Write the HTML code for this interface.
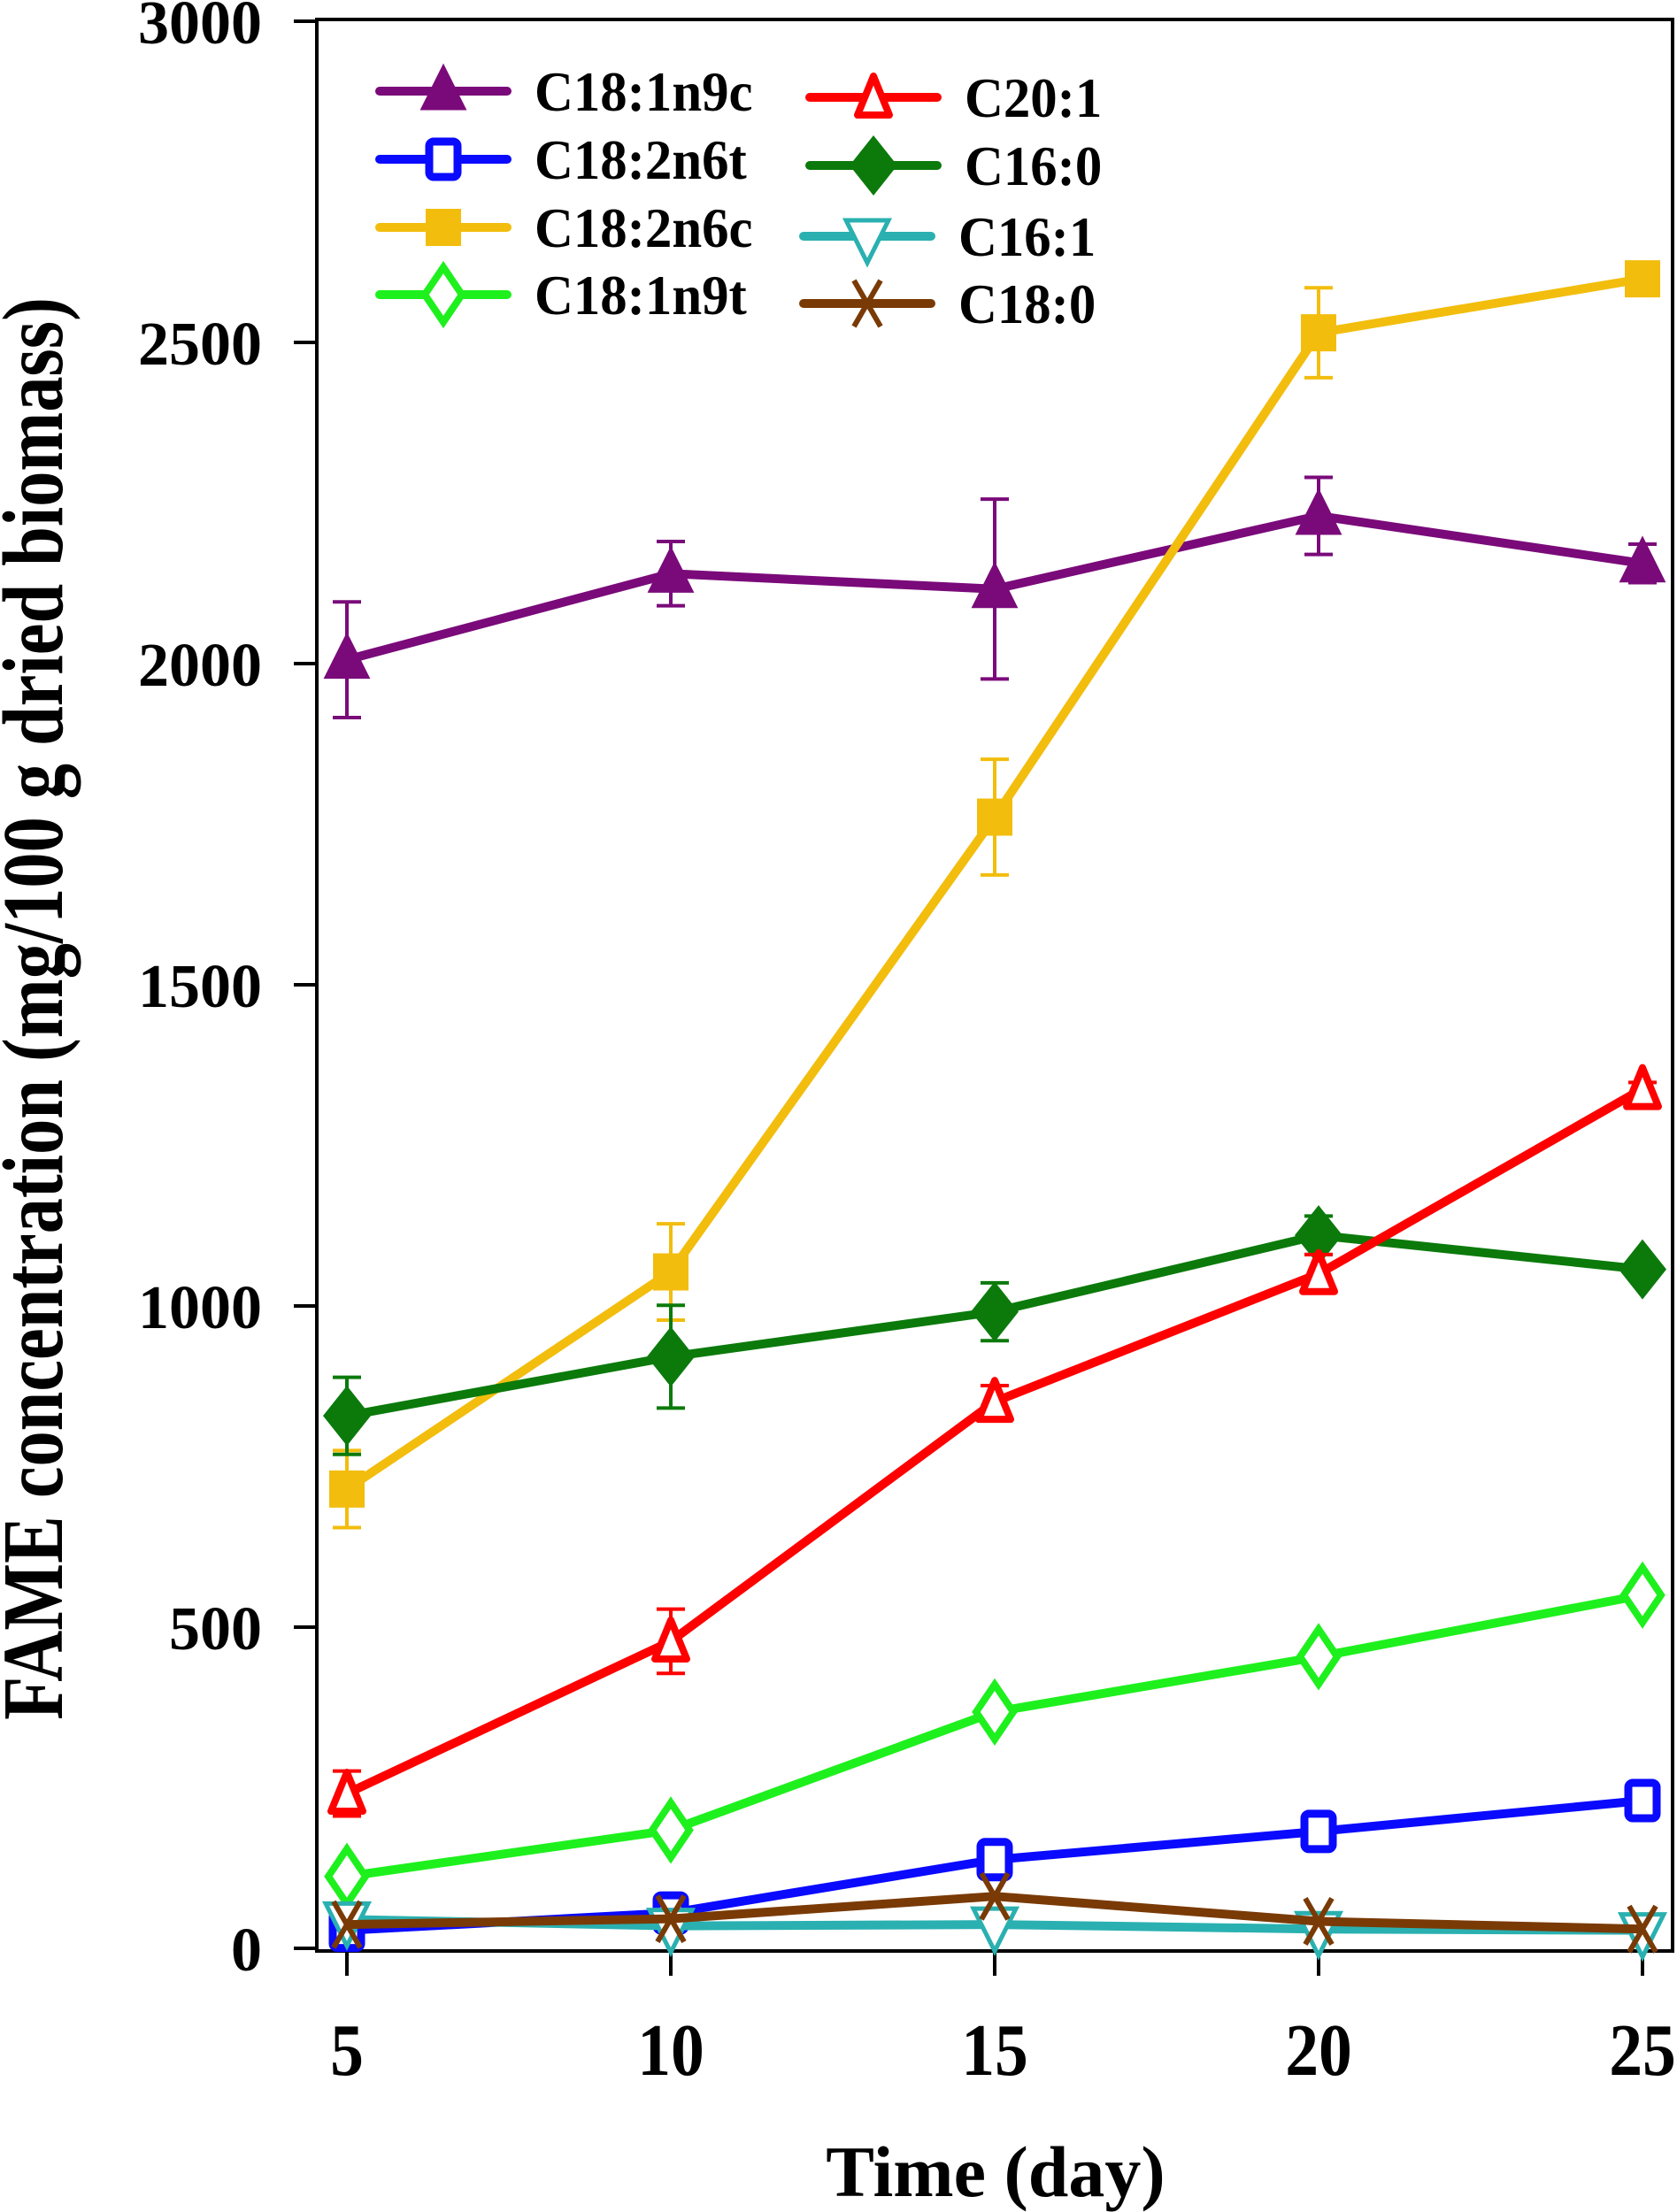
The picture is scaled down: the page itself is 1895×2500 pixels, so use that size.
<!DOCTYPE html>
<html><head><meta charset="utf-8"><style>
html,body{margin:0;padding:0;background:#fff}
svg{display:block}
text{font-family:"Liberation Serif",serif;font-weight:bold;fill:#000}
</style></head><body>
<svg id="chart" width="1895" height="2500" viewBox="0 0 1895 2500" xmlns="http://www.w3.org/2000/svg">
<g id="grid"></g>
<g id="series"></g>
<g id="legend"></g>
</svg>
<script>
const days = [5, 10, 15, 20, 25];
const yTicks = [0, 500, 1000, 1500, 2000, 2500, 3000];
const c181n9c = [2006, 2140, 2116, 2230, 2156];
const c181n9cErr = [90, 50, 140, 60, 30];
const c182n6t = [28, 55, 138, 182, 230];
const c182n6c = [715, 1053, 1761, 2515, 2599];
const c182n6cErr = [60, 75, 90, 70, 10];
const c181n9t = [112, 184, 368, 454, 550];
const c201 = [241, 478, 851, 1050, 1338];
const c201Err = [35, 50, 25, 30, 10];
const c160 = [829, 921, 991, 1110, 1057];
const c160Err = [60, 80, 45, 30, 10];
const c161 = [45, 35, 37, 30, 28];
const c180 = [37, 46, 81, 42, 30];

const NS = 'http://www.w3.org/2000/svg';
const L = 358, R = 1890, T = 22, B = 2205;
const X = d => 392 + (d - 5) * (1856 - 392) / 20;
const Y = v => 2202 - v * (2202 - 24) / 3000;
function mk(tag, attrs, parent) {
  const e = document.createElementNS(NS, tag);
  for (const k in attrs) e.setAttribute(k, attrs[k]);
  parent.appendChild(e);
  return e;
}
const grid = document.getElementById('grid');
const ser = document.getElementById('series');
const leg = document.getElementById('legend');

const frame = mk('rect', {x: L, y: T, width: R - L, height: B - T, fill: 'none', stroke: '#000', 'stroke-width': 4}, grid);


yTicks.forEach(v => {
  const t = mk('line', {x1: L - 26, x2: L, y1: Y(v), y2: Y(v), stroke: '#000', 'stroke-width': 4}, grid);
  
  
  const lb = mk('text', {x: 296, y: Y(v) + 25, 'text-anchor': 'end', 'font-size': 70}, grid);
  lb.textContent = v;
  
  
});
days.forEach(d => {
  const t = mk('line', {x1: X(d), x2: X(d), y1: B, y2: B + 28, stroke: '#000', 'stroke-width': 4}, grid);
  
  
  const lb = mk('text', {x: 0, y: 0, 'text-anchor': 'middle', 'font-size': 84, transform: `translate(${X(d)},2345) scale(0.9,1)`}, grid);
  lb.textContent = d;
  
  
});
const xt = mk('text', {x: 1125, y: 2482, 'text-anchor': 'middle', 'font-size': 82}, grid);
xt.textContent = 'Time (day)';


const yt = mk('text', {x: 0, y: 0, 'text-anchor': 'middle', 'font-size': 98, transform: 'translate(70,1140) rotate(-90) scale(0.82,1)'}, grid);
yt.textContent = 'FAME concentration (mg/100 g dried biomass)';



function marker(type, color, cx, cy, parent) {
  const s = 24;
  let e;
  if (type === 'tri') e = mk('polygon', {points: `${cx},${cy-s-4} ${cx-s},${cy+s-4} ${cx+s},${cy+s-4}`, fill: color, stroke: color, 'stroke-width': 3}, parent);
  else if (type === 'otri') e = mk('polygon', {points: `${cx},${cy-s} ${cx-s+6},${cy+s-4} ${cx+s-6},${cy+s-4}`, fill: '#fff', stroke: color, 'stroke-width': 8, 'stroke-linejoin': 'round'}, parent);
  else if (type === 'dtri') e = mk('polygon', {points: `${cx-s},${cy-s+6} ${cx+s},${cy-s+6} ${cx},${cy+s+6}`, fill: '#fff', stroke: color, 'stroke-width': 5}, parent);
  else if (type === 'osq') e = mk('rect', {x: cx - 16, y: cy - 20, width: 32, height: 40, rx: 5, fill: '#fff', stroke: color, 'stroke-width': 9}, parent);
  else if (type === 'sq') e = mk('rect', {x: cx - 20, y: cy - 21, width: 40, height: 42, fill: color}, parent);
  else if (type === 'dia') e = mk('polygon', {points: `${cx},${cy-34} ${cx+27},${cy} ${cx},${cy+34} ${cx-27},${cy}`, fill: color}, parent);
  else if (type === 'odia') e = mk('polygon', {points: `${cx},${cy-31} ${cx+21},${cy} ${cx},${cy+31} ${cx-21},${cy}`, fill: '#fff', stroke: color, 'stroke-width': 8}, parent);
  else if (type === 'x') e = mk('path', {d: `M${cx-15},${cy-26} L${cx+15},${cy+26} M${cx+15},${cy-26} L${cx-15},${cy+26}`, stroke: color, 'stroke-width': 6, fill: 'none'}, parent);
  
  
}

const seriesList = [
  {name: 'C18:1n9c', vals: c181n9c, err: c181n9cErr, color: '#7a0a7a', m: 'tri'},
  {name: 'C18:2n6c', vals: c182n6c, err: c182n6cErr, color: '#f2bd0d', m: 'sq'},
  {name: 'C16:0', vals: c160, err: c160Err, color: '#0b7a0b', m: 'dia'},
  {name: 'C20:1', vals: c201, err: c201Err, color: '#ff0000', m: 'otri'},
  {name: 'C18:1n9t', vals: c181n9t, err: null, color: '#1ef01e', m: 'odia'},
  {name: 'C18:2n6t', vals: c182n6t, err: null, color: '#0a0aff', m: 'osq'},
  {name: 'C16:1', vals: c161, err: null, color: '#2ab0b0', m: 'dtri'},
  {name: 'C18:0', vals: c180, err: null, color: '#7a3a05', m: 'x'}
];
seriesList.forEach(s => {
  const g = mk('g', {}, ser);
  
  
  if (s.err) s.vals.forEach((v, i) => {
    const e = s.err[i];
    const p = mk('path', {d: `M${X(days[i])},${Y(v-e)} V${Y(v+e)} M${X(days[i])-16},${Y(v-e)} h32 M${X(days[i])-16},${Y(v+e)} h32`, stroke: s.color, 'stroke-width': 4, fill: 'none'}, g);
    
    
  });
  const ln = mk('polyline', {points: s.vals.map((v, i) => X(days[i]) + ',' + Y(v)).join(' '), fill: 'none', stroke: s.color, 'stroke-width': 10, 'stroke-linejoin': 'round'}, g);
  
  
  s.vals.forEach((v, i) => marker(s.m, s.color, X(days[i]), Y(v), g));
});

const legendItems = [
  {name: 'C18:1n9c', color: '#7a0a7a', m: 'tri', x: 429, y: 103},
  {name: 'C18:2n6t', color: '#0a0aff', m: 'osq', x: 429, y: 180},
  {name: 'C18:2n6c', color: '#f2bd0d', m: 'sq', x: 429, y: 257},
  {name: 'C18:1n9t', color: '#1ef01e', m: 'odia', x: 429, y: 333},
  {name: 'C20:1', color: '#ff0000', m: 'otri', x: 915, y: 110},
  {name: 'C16:0', color: '#0b7a0b', m: 'dia', x: 915, y: 187},
  {name: 'C16:1', color: '#2ab0b0', m: 'dtri', x: 908, y: 267},
  {name: 'C18:0', color: '#7a3a05', m: 'x', x: 908, y: 343}
];
legendItems.forEach(it => {
  const g = mk('g', {}, leg);
  
  
  mk('line', {x1: it.x, x2: it.x + 144, y1: it.y, y2: it.y, stroke: it.color, 'stroke-width': 10, 'stroke-linecap': 'round'}, g);
  marker(it.m, it.color, it.x + 72, it.y, g);
  const t = mk('text', {x: 0, y: 0, 'font-size': 64, transform: `translate(${it.x + 175},${it.y + 22}) scale(0.95,1)`}, g);
  t.textContent = it.name;
});
</script>
</body></html>
